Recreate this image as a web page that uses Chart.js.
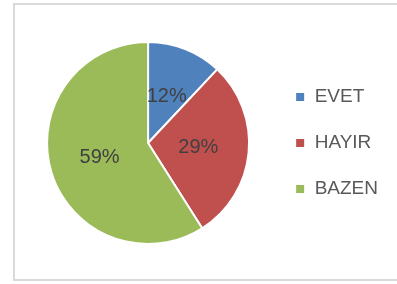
<!DOCTYPE html>
<html>
<head>
<meta charset="utf-8">
<script src="https://cdn.jsdelivr.net/npm/chart.js@4/dist/chart.umd.min.js"></script>
<style>
  html, body { margin: 0; padding: 0; background: #fff; }
  #wrap { position: relative; width: 397px; height: 284px; overflow: hidden; }
  #frame { position: absolute; left: 13px; top: 3px; width: 400px; height: 278px; border: 2px solid #d9d9d9; box-sizing: border-box; }
  canvas { position: absolute; left: 0; top: 0; }
</style>
</head>
<body>
<div id="wrap">
  <div id="frame"></div>
  <canvas id="chart" width="397" height="284"></canvas>
</div>
<script>
var labels = ['EVET', 'HAYIR', 'BAZEN'];
var values = [12, 29, 59];
var colors = ['#4F81BD', '#C0504D', '#9BBB59'];

// percentage labels in the middle of each slice
var sliceLabels = {
  id: 'sliceLabels',
  afterDatasetsDraw: function(chart) {
    var ctx = chart.ctx;
    var meta = chart.getDatasetMeta(0);
    var total = values.reduce(function(a, b) { return a + b; }, 0);
    ctx.save();
    ctx.font = '20px "Liberation Sans", Arial, sans-serif';
    ctx.fillStyle = '#404040';
    ctx.textAlign = 'center';
    ctx.textBaseline = 'middle';
    meta.data.forEach(function(arc, i) {
      var p = arc.tooltipPosition();
      ctx.fillText(Math.round(values[i] / total * 100) + '%', p.x, p.y);
    });
    ctx.restore();
  }
};

new Chart(document.getElementById('chart'), {
  type: 'pie',
  data: {
    labels: labels,
    datasets: [{
      data: values,
      backgroundColor: colors,
      borderColor: '#ffffff',
      borderWidth: 2
    }]
  },
  options: {
    responsive: false,
    animation: false,
    layout: { padding: { left: 28, right: 9, top: 41, bottom: 39 } },
    plugins: {
      tooltip: { enabled: false },
      legend: {
        position: 'right',
        labels: {
          boxWidth: 10,
          boxHeight: 10,
          padding: 27,
          color: '#595959',
          font: { family: '"Liberation Sans", Arial, sans-serif', size: 19 }
        }
      }
    }
  },
  plugins: [sliceLabels]
});
</script>
</body>
</html>
